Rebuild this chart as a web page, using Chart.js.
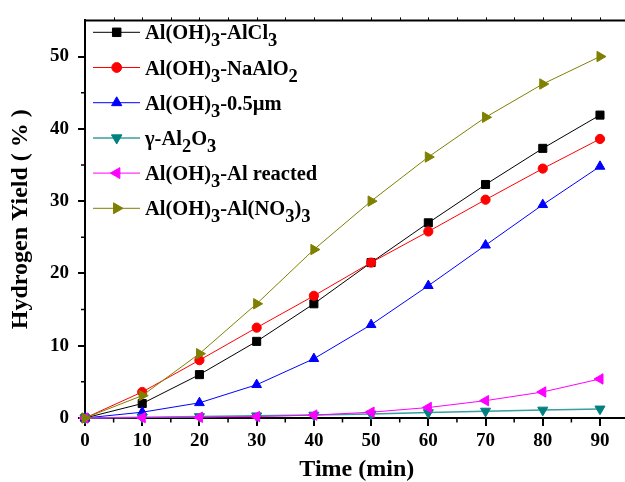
<!DOCTYPE html>
<html><head><meta charset="utf-8">
<script src="https://cdn.jsdelivr.net/npm/chart.js@4/dist/chart.umd.min.js"></script>
<style>html,body{margin:0;padding:0;overflow:hidden;background:#fff}</style>
</head><body>
<canvas id="c" width="640" height="482"></canvas>
<script>
// ---- data ----
const times = [0, 10, 20, 30, 40, 50, 60, 70, 80, 90];
const xTickValues = [0, 10, 20, 30, 40, 50, 60, 70, 80, 90];
const yTickValues = [0, 10, 20, 30, 40, 50];
const seriesNames = ['Al(OH)_3-AlCl_3', 'Al(OH)_3-NaAlO_2', 'Al(OH)_3-0.5µm', 'γ-Al_2O_3', 'Al(OH)_3-Al reacted', 'Al(OH)_3-Al(NO_3)_3'];
const alcl3   = [0, 2.0, 6.0, 10.6, 15.8, 21.5, 27.0, 32.3, 37.3, 41.9];
const naalo2  = [0, 3.6, 8.0, 12.5, 16.9, 21.5, 25.8, 30.2, 34.5, 38.6];
const um05    = [0, 0.8, 2.1, 4.6, 8.2, 12.9, 18.3, 23.9, 29.5, 34.8];
const gamma   = [0, 0.1, 0.2, 0.3, 0.4, 0.55, 0.75, 0.95, 1.1, 1.25];
const reacted = [0, 0.05, 0.1, 0.2, 0.4, 0.8, 1.45, 2.4, 3.6, 5.4];
const nitrate = [0, 3.1, 8.9, 15.8, 23.3, 30.0, 36.1, 41.6, 46.2, 50.0];
const seriesValues = [alcl3, naalo2, um05, gamma, reacted, nitrate];

// ---- styles ----
const FAMILY = "'Liberation Serif', 'Times New Roman', serif";
const colors = ['#000000', '#ff0000', '#0000ff', '#008080', '#ff00ff', '#808000'];
const lineColors = ['#000000', '#ff0000', '#0000ff', '#3a9e9e', '#ff00ff', '#808000'];
const marks = [
  {ps: 'rect', rot: 0, r: 5.7},
  {ps: 'circle', rot: 0, r: 4.6},
  {ps: 'triangle', rot: 0, r: 5.6},
  {ps: 'triangle', rot: 180, r: 5.8},
  {ps: 'triangle', rot: 270, r: 6},
  {ps: 'triangle', rot: 90, r: 6}
];

const datasets = seriesValues.map((vals, i) => ({
  label: seriesNames[i],
  data: vals,
  borderColor: lineColors[i],
  backgroundColor: colors[i],
  pointBackgroundColor: colors[i],
  pointBorderColor: colors[i],
  borderWidth: i === 3 ? 1.5 : 1,
  pointStyle: marks[i].ps,
  rotation: marks[i].rot,
  pointRadius: marks[i].r,
  pointBorderWidth: 1,
  order: seriesValues.length - i,
  clip: false,
  tension: 0
}));

function drawRich(ctx, text, x, y, size, subSize, shift) {
  const parts = [];
  let i = 0;
  while (i < text.length) {
    if (text[i] === '_') { parts.push({t: text[i + 1], sub: true}); i += 2; }
    else { let j = i; while (j < text.length && text[j] !== '_') j++; parts.push({t: text.slice(i, j), sub: false}); i = j; }
  }
  for (const p of parts) {
    ctx.font = `bold ${p.sub ? subSize : size}px ${FAMILY}`;
    ctx.fillText(p.t, x, y + (p.sub ? shift : 0));
    x += ctx.measureText(p.t).width;
  }
}

const framePlugin = {
  id: 'framePlugin',
  afterDraw(chart) {
    const {ctx, chartArea: {left, right, top, bottom}, scales: {x, y}} = chart;
    ctx.save();
    ctx.strokeStyle = '#000';
    ctx.lineWidth = 2;
    ctx.beginPath();
    ctx.moveTo(left - 1, top); ctx.lineTo(right, top); ctx.lineTo(right, bottom);
    ctx.stroke();
    // minor ticks
    ctx.lineWidth = 1.5;
    ctx.beginPath();
    for (let v = 5; v < x.max; v += 10) {
      const px = x.getPixelForValue(v);
      ctx.moveTo(px, bottom); ctx.lineTo(px, bottom + 4.5);
    }
    for (let v = 5; v < y.max; v += 10) {
      const py = y.getPixelForValue(v);
      ctx.moveTo(left, py); ctx.lineTo(left - 4, py);
    }
    ctx.stroke();
    // top axis small ticks
    ctx.lineWidth = 1;
    ctx.beginPath();
    for (let v = 5; v < x.max; v += 5) {
      const px = Math.round(x.getPixelForValue(v)) + 0.5;
      ctx.moveTo(px, top); ctx.lineTo(px, top - 3);
    }
    ctx.stroke();
    ctx.restore();

    // legend
    ctx.save();
    chart.data.datasets.forEach((ds, i) => {
      const cy = 32.3 + i * 35.2;
      ctx.strokeStyle = ds.borderColor;
      ctx.lineWidth = ds.borderWidth;
      ctx.beginPath(); ctx.moveTo(93, cy); ctx.lineTo(140, cy); ctx.stroke();
      ctx.fillStyle = ds.pointBackgroundColor;
      ctx.strokeStyle = ds.pointBorderColor;
      ctx.lineWidth = 1;
      Chart.helpers.drawPoint(ctx, {pointStyle: ds.pointStyle, rotation: ds.rotation, radius: ds.pointRadius + 0.3, borderWidth: 1}, 116.7, cy);
      ctx.fillStyle = '#000';
      ctx.textBaseline = 'alphabetic';
      ctx.textAlign = 'left';
      drawRich(ctx, ds.label, 145, cy + 7, 20.5, 18.5, 7);
    });
    ctx.restore();
  }
};

Chart.defaults.font.family = FAMILY;
Chart.defaults.color = '#000';

new Chart(document.getElementById('c'), {
  type: 'line',
  data: {labels: times, datasets},
  options: {
    responsive: false,
    animation: false,
    events: [],
    layout: {padding: {top: 14, right: 11.4, left: 0, bottom: 0}},
    plugins: {legend: {display: false}, tooltip: {enabled: false}},
    scales: {
      x: {
        type: 'linear', min: 0, max: 95,
        afterBuildTicks: s => { s.ticks = xTickValues.map(v => ({value: v})); },
        afterFit: s => { s.height = 64; },
        ticks: {font: {size: 19, weight: 'bold'}, padding: 4, maxRotation: 0, autoSkip: false, color: '#000'},
        grid: {drawOnChartArea: false, drawTicks: true, tickLength: 8, lineWidth: 2, color: '#000'},
        border: {display: true, width: 2, color: '#000'},
        title: {display: true, text: 'Time (min)', font: {size: 24, weight: 'bold', lineHeight: 1}, color: '#000', padding: {top: 0, bottom: 0}}
      },
      y: {
        type: 'linear', min: 0, max: 55,
        afterBuildTicks: s => { s.ticks = yTickValues.map(v => ({value: v})); },
        afterFit: s => { s.width = 85; },
        ticks: {font: {size: 19, weight: 'bold'}, padding: 9, color: '#000'},
        grid: {drawOnChartArea: false, drawTicks: true, tickLength: 7, lineWidth: 2, color: '#000'},
        border: {display: true, width: 2, color: '#000'},
        title: {display: true, text: 'Hydrogen Yield ( % )', font: {size: 24, weight: 'bold', lineHeight: 1.2}, color: '#000', padding: {top: 6.5, bottom: 0}}
      }
    }
  },
  plugins: [framePlugin]
});
</script>
</body></html>
